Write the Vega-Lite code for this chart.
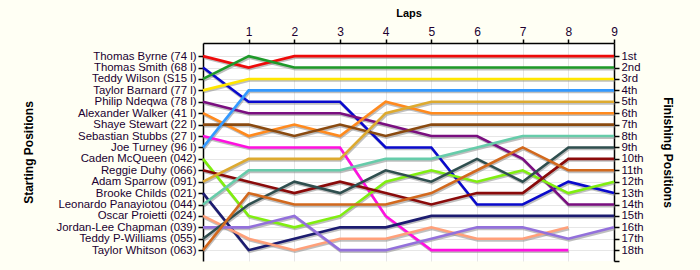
{
  "$schema": "https://vega.github.io/schema/vega-lite/v6.json",
  "width": 411,
  "height": 218,
  "autosize": {"type": "none"},
  "padding": {"left": 203, "top": 43, "right": 86, "bottom": 9},
  "background": "#FFFFF4",
  "config": {
    "view": {"stroke": null, "fill": "white"},
    "axis": {"labelFont": "Liberation Sans", "titleFont": "Liberation Sans", "labelColor": "#200030", "titleColor": "black", "domainColor": "black", "tickColor": "black", "gridColor": "#E6E6E6", "domainWidth": 1.5, "tickWidth": 1.5, "labelOverlap": false}
  },
  "datasets": {
    "race": [
      {"driver": "Thomas Byrne (74 l)", "lap": 0, "pos": 1}, {"driver": "Thomas Byrne (74 l)", "lap": 1, "pos": 2}, {"driver": "Thomas Byrne (74 l)", "lap": 2, "pos": 1}, {"driver": "Thomas Byrne (74 l)", "lap": 3, "pos": 1}, {"driver": "Thomas Byrne (74 l)", "lap": 4, "pos": 1}, {"driver": "Thomas Byrne (74 l)", "lap": 5, "pos": 1}, {"driver": "Thomas Byrne (74 l)", "lap": 6, "pos": 1}, {"driver": "Thomas Byrne (74 l)", "lap": 7, "pos": 1}, {"driver": "Thomas Byrne (74 l)", "lap": 8, "pos": 1}, {"driver": "Thomas Byrne (74 l)", "lap": 9, "pos": 1},
      {"driver": "Thomas Smith (68 l)", "lap": 0, "pos": 2}, {"driver": "Thomas Smith (68 l)", "lap": 1, "pos": 5}, {"driver": "Thomas Smith (68 l)", "lap": 2, "pos": 5}, {"driver": "Thomas Smith (68 l)", "lap": 3, "pos": 5}, {"driver": "Thomas Smith (68 l)", "lap": 4, "pos": 9}, {"driver": "Thomas Smith (68 l)", "lap": 5, "pos": 9}, {"driver": "Thomas Smith (68 l)", "lap": 6, "pos": 14}, {"driver": "Thomas Smith (68 l)", "lap": 7, "pos": 14}, {"driver": "Thomas Smith (68 l)", "lap": 8, "pos": 12}, {"driver": "Thomas Smith (68 l)", "lap": 9, "pos": 13},
      {"driver": "Teddy Wilson (S15 l)", "lap": 0, "pos": 3}, {"driver": "Teddy Wilson (S15 l)", "lap": 1, "pos": 1}, {"driver": "Teddy Wilson (S15 l)", "lap": 2, "pos": 2}, {"driver": "Teddy Wilson (S15 l)", "lap": 3, "pos": 2}, {"driver": "Teddy Wilson (S15 l)", "lap": 4, "pos": 2}, {"driver": "Teddy Wilson (S15 l)", "lap": 5, "pos": 2}, {"driver": "Teddy Wilson (S15 l)", "lap": 6, "pos": 2}, {"driver": "Teddy Wilson (S15 l)", "lap": 7, "pos": 2}, {"driver": "Teddy Wilson (S15 l)", "lap": 8, "pos": 2}, {"driver": "Teddy Wilson (S15 l)", "lap": 9, "pos": 2},
      {"driver": "Taylor Barnard (77 l)", "lap": 0, "pos": 4}, {"driver": "Taylor Barnard (77 l)", "lap": 1, "pos": 3}, {"driver": "Taylor Barnard (77 l)", "lap": 2, "pos": 3}, {"driver": "Taylor Barnard (77 l)", "lap": 3, "pos": 3}, {"driver": "Taylor Barnard (77 l)", "lap": 4, "pos": 3}, {"driver": "Taylor Barnard (77 l)", "lap": 5, "pos": 3}, {"driver": "Taylor Barnard (77 l)", "lap": 6, "pos": 3}, {"driver": "Taylor Barnard (77 l)", "lap": 7, "pos": 3}, {"driver": "Taylor Barnard (77 l)", "lap": 8, "pos": 3}, {"driver": "Taylor Barnard (77 l)", "lap": 9, "pos": 3},
      {"driver": "Philip Ndeqwa (78 l)", "lap": 0, "pos": 5}, {"driver": "Philip Ndeqwa (78 l)", "lap": 1, "pos": 6}, {"driver": "Philip Ndeqwa (78 l)", "lap": 2, "pos": 6}, {"driver": "Philip Ndeqwa (78 l)", "lap": 3, "pos": 6}, {"driver": "Philip Ndeqwa (78 l)", "lap": 4, "pos": 7}, {"driver": "Philip Ndeqwa (78 l)", "lap": 5, "pos": 8}, {"driver": "Philip Ndeqwa (78 l)", "lap": 6, "pos": 8}, {"driver": "Philip Ndeqwa (78 l)", "lap": 7, "pos": 10}, {"driver": "Philip Ndeqwa (78 l)", "lap": 8, "pos": 14}, {"driver": "Philip Ndeqwa (78 l)", "lap": 9, "pos": 14},
      {"driver": "Alexander Walker (41 l)", "lap": 0, "pos": 6}, {"driver": "Alexander Walker (41 l)", "lap": 1, "pos": 8}, {"driver": "Alexander Walker (41 l)", "lap": 2, "pos": 7}, {"driver": "Alexander Walker (41 l)", "lap": 3, "pos": 8}, {"driver": "Alexander Walker (41 l)", "lap": 4, "pos": 5}, {"driver": "Alexander Walker (41 l)", "lap": 5, "pos": 6}, {"driver": "Alexander Walker (41 l)", "lap": 6, "pos": 6}, {"driver": "Alexander Walker (41 l)", "lap": 7, "pos": 6}, {"driver": "Alexander Walker (41 l)", "lap": 8, "pos": 6}, {"driver": "Alexander Walker (41 l)", "lap": 9, "pos": 6},
      {"driver": "Shaye Stewart (22 l)", "lap": 0, "pos": 7}, {"driver": "Shaye Stewart (22 l)", "lap": 1, "pos": 7}, {"driver": "Shaye Stewart (22 l)", "lap": 2, "pos": 8}, {"driver": "Shaye Stewart (22 l)", "lap": 3, "pos": 7}, {"driver": "Shaye Stewart (22 l)", "lap": 4, "pos": 8}, {"driver": "Shaye Stewart (22 l)", "lap": 5, "pos": 7}, {"driver": "Shaye Stewart (22 l)", "lap": 6, "pos": 7}, {"driver": "Shaye Stewart (22 l)", "lap": 7, "pos": 7}, {"driver": "Shaye Stewart (22 l)", "lap": 8, "pos": 7}, {"driver": "Shaye Stewart (22 l)", "lap": 9, "pos": 7},
      {"driver": "Sebastian Stubbs (27 l)", "lap": 0, "pos": 8}, {"driver": "Sebastian Stubbs (27 l)", "lap": 1, "pos": 9}, {"driver": "Sebastian Stubbs (27 l)", "lap": 2, "pos": 9}, {"driver": "Sebastian Stubbs (27 l)", "lap": 3, "pos": 9}, {"driver": "Sebastian Stubbs (27 l)", "lap": 4, "pos": 15}, {"driver": "Sebastian Stubbs (27 l)", "lap": 5, "pos": 18}, {"driver": "Sebastian Stubbs (27 l)", "lap": 6, "pos": 18}, {"driver": "Sebastian Stubbs (27 l)", "lap": 7, "pos": 18}, {"driver": "Sebastian Stubbs (27 l)", "lap": 8, "pos": 18},
      {"driver": "Joe Turney (96 l)", "lap": 0, "pos": 9}, {"driver": "Joe Turney (96 l)", "lap": 1, "pos": 4}, {"driver": "Joe Turney (96 l)", "lap": 2, "pos": 4}, {"driver": "Joe Turney (96 l)", "lap": 3, "pos": 4}, {"driver": "Joe Turney (96 l)", "lap": 4, "pos": 4}, {"driver": "Joe Turney (96 l)", "lap": 5, "pos": 4}, {"driver": "Joe Turney (96 l)", "lap": 6, "pos": 4}, {"driver": "Joe Turney (96 l)", "lap": 7, "pos": 4}, {"driver": "Joe Turney (96 l)", "lap": 8, "pos": 4}, {"driver": "Joe Turney (96 l)", "lap": 9, "pos": 4},
      {"driver": "Caden McQueen (042)", "lap": 0, "pos": 10}, {"driver": "Caden McQueen (042)", "lap": 1, "pos": 15}, {"driver": "Caden McQueen (042)", "lap": 2, "pos": 16}, {"driver": "Caden McQueen (042)", "lap": 3, "pos": 15}, {"driver": "Caden McQueen (042)", "lap": 4, "pos": 12}, {"driver": "Caden McQueen (042)", "lap": 5, "pos": 11}, {"driver": "Caden McQueen (042)", "lap": 6, "pos": 12}, {"driver": "Caden McQueen (042)", "lap": 7, "pos": 11}, {"driver": "Caden McQueen (042)", "lap": 8, "pos": 13}, {"driver": "Caden McQueen (042)", "lap": 9, "pos": 12},
      {"driver": "Reggie Duhy (066)", "lap": 0, "pos": 11}, {"driver": "Reggie Duhy (066)", "lap": 1, "pos": 12}, {"driver": "Reggie Duhy (066)", "lap": 2, "pos": 13}, {"driver": "Reggie Duhy (066)", "lap": 3, "pos": 12}, {"driver": "Reggie Duhy (066)", "lap": 4, "pos": 13}, {"driver": "Reggie Duhy (066)", "lap": 5, "pos": 14}, {"driver": "Reggie Duhy (066)", "lap": 6, "pos": 13}, {"driver": "Reggie Duhy (066)", "lap": 7, "pos": 13}, {"driver": "Reggie Duhy (066)", "lap": 8, "pos": 10}, {"driver": "Reggie Duhy (066)", "lap": 9, "pos": 10},
      {"driver": "Adam Sparrow (091)", "lap": 0, "pos": 12}, {"driver": "Adam Sparrow (091)", "lap": 1, "pos": 10}, {"driver": "Adam Sparrow (091)", "lap": 2, "pos": 10}, {"driver": "Adam Sparrow (091)", "lap": 3, "pos": 10}, {"driver": "Adam Sparrow (091)", "lap": 4, "pos": 6}, {"driver": "Adam Sparrow (091)", "lap": 5, "pos": 5}, {"driver": "Adam Sparrow (091)", "lap": 6, "pos": 5}, {"driver": "Adam Sparrow (091)", "lap": 7, "pos": 5}, {"driver": "Adam Sparrow (091)", "lap": 8, "pos": 5}, {"driver": "Adam Sparrow (091)", "lap": 9, "pos": 5},
      {"driver": "Brooke Childs (021)", "lap": 0, "pos": 13}, {"driver": "Brooke Childs (021)", "lap": 1, "pos": 18}, {"driver": "Brooke Childs (021)", "lap": 2, "pos": 17}, {"driver": "Brooke Childs (021)", "lap": 3, "pos": 16}, {"driver": "Brooke Childs (021)", "lap": 4, "pos": 16}, {"driver": "Brooke Childs (021)", "lap": 5, "pos": 15}, {"driver": "Brooke Childs (021)", "lap": 6, "pos": 15}, {"driver": "Brooke Childs (021)", "lap": 7, "pos": 15}, {"driver": "Brooke Childs (021)", "lap": 8, "pos": 15}, {"driver": "Brooke Childs (021)", "lap": 9, "pos": 15},
      {"driver": "Leonardo Panayiotou (044)", "lap": 0, "pos": 14}, {"driver": "Leonardo Panayiotou (044)", "lap": 1, "pos": 11}, {"driver": "Leonardo Panayiotou (044)", "lap": 2, "pos": 11}, {"driver": "Leonardo Panayiotou (044)", "lap": 3, "pos": 11}, {"driver": "Leonardo Panayiotou (044)", "lap": 4, "pos": 10}, {"driver": "Leonardo Panayiotou (044)", "lap": 5, "pos": 10}, {"driver": "Leonardo Panayiotou (044)", "lap": 6, "pos": 9}, {"driver": "Leonardo Panayiotou (044)", "lap": 7, "pos": 8}, {"driver": "Leonardo Panayiotou (044)", "lap": 8, "pos": 8}, {"driver": "Leonardo Panayiotou (044)", "lap": 9, "pos": 8},
      {"driver": "Oscar Proietti (024)", "lap": 0, "pos": 15}, {"driver": "Oscar Proietti (024)", "lap": 1, "pos": 17}, {"driver": "Oscar Proietti (024)", "lap": 2, "pos": 18}, {"driver": "Oscar Proietti (024)", "lap": 3, "pos": 17}, {"driver": "Oscar Proietti (024)", "lap": 4, "pos": 17}, {"driver": "Oscar Proietti (024)", "lap": 5, "pos": 16}, {"driver": "Oscar Proietti (024)", "lap": 6, "pos": 17}, {"driver": "Oscar Proietti (024)", "lap": 7, "pos": 17}, {"driver": "Oscar Proietti (024)", "lap": 8, "pos": 16},
      {"driver": "Jordan-Lee Chapman (039)", "lap": 0, "pos": 16}, {"driver": "Jordan-Lee Chapman (039)", "lap": 1, "pos": 16}, {"driver": "Jordan-Lee Chapman (039)", "lap": 2, "pos": 15}, {"driver": "Jordan-Lee Chapman (039)", "lap": 3, "pos": 18}, {"driver": "Jordan-Lee Chapman (039)", "lap": 4, "pos": 18}, {"driver": "Jordan-Lee Chapman (039)", "lap": 5, "pos": 17}, {"driver": "Jordan-Lee Chapman (039)", "lap": 6, "pos": 16}, {"driver": "Jordan-Lee Chapman (039)", "lap": 7, "pos": 16}, {"driver": "Jordan-Lee Chapman (039)", "lap": 8, "pos": 17}, {"driver": "Jordan-Lee Chapman (039)", "lap": 9, "pos": 16},
      {"driver": "Teddy P-Williams (055)", "lap": 0, "pos": 17}, {"driver": "Teddy P-Williams (055)", "lap": 1, "pos": 14}, {"driver": "Teddy P-Williams (055)", "lap": 2, "pos": 12}, {"driver": "Teddy P-Williams (055)", "lap": 3, "pos": 13}, {"driver": "Teddy P-Williams (055)", "lap": 4, "pos": 11}, {"driver": "Teddy P-Williams (055)", "lap": 5, "pos": 12}, {"driver": "Teddy P-Williams (055)", "lap": 6, "pos": 10}, {"driver": "Teddy P-Williams (055)", "lap": 7, "pos": 12}, {"driver": "Teddy P-Williams (055)", "lap": 8, "pos": 9}, {"driver": "Teddy P-Williams (055)", "lap": 9, "pos": 9},
      {"driver": "Taylor Whitson (063)", "lap": 0, "pos": 18}, {"driver": "Taylor Whitson (063)", "lap": 1, "pos": 13}, {"driver": "Taylor Whitson (063)", "lap": 2, "pos": 14}, {"driver": "Taylor Whitson (063)", "lap": 3, "pos": 14}, {"driver": "Taylor Whitson (063)", "lap": 4, "pos": 14}, {"driver": "Taylor Whitson (063)", "lap": 5, "pos": 13}, {"driver": "Taylor Whitson (063)", "lap": 6, "pos": 11}, {"driver": "Taylor Whitson (063)", "lap": 7, "pos": 9}, {"driver": "Taylor Whitson (063)", "lap": 8, "pos": 11}, {"driver": "Taylor Whitson (063)", "lap": 9, "pos": 11}
    ]
  },
  "data": {"name": "race"},
  "layer": [
    {
      "mark": {"type": "line", "stroke": "#8A8A8A", "strokeWidth": 2.6, "opacity": 0.55, "xOffset": 0.8, "yOffset": 1.6},
      "encoding": {
        "x": {"field": "lap", "type": "quantitative", "scale": {"domain": [0, 9], "nice": false, "zero": false},
          "axis": {"orient": "top", "values": [1, 2, 3, 4, 5, 6, 7, 8, 9], "title": "Laps", "titleFontSize": 11, "titleFontWeight": "bold", "titlePadding": 7, "labelFontSize": 12, "tickSize": 4, "labelPadding": 1, "grid": true, "labelFlush": false}},
        "y": {"field": "pos", "type": "quantitative", "scale": {"domain": [-0.15, 18.95], "reverse": true, "nice": false, "zero": false},
          "axis": {"orient": "left", "values": [1, 2, 3, 4, 5, 6, 7, 8, 9, 10, 11, 12, 13, 14, 15, 16, 17, 18],
            "labelExpr": "['', 'Thomas Byrne (74 l)', 'Thomas Smith (68 l)', 'Teddy Wilson (S15 l)', 'Taylor Barnard (77 l)', 'Philip Ndeqwa (78 l)', 'Alexander Walker (41 l)', 'Shaye Stewart (22 l)', 'Sebastian Stubbs (27 l)', 'Joe Turney (96 l)', 'Caden McQueen (042)', 'Reggie Duhy (066)', 'Adam Sparrow (091)', 'Brooke Childs (021)', 'Leonardo Panayiotou (044)', 'Oscar Proietti (024)', 'Jordan-Lee Chapman (039)', 'Teddy P-Williams (055)', 'Taylor Whitson (063)'][datum.value]",
            "labelFontSize": 11.4, "tickSize": 5, "labelPadding": 2, "grid": true, "labelFlush": false,
            "title": "Starting Positions", "titleFontSize": 12, "titleFontWeight": "bold", "titleAngle": -90, "titleX": -175, "titleY": 109, "titleAlign": "center", "titleBaseline": "middle"}},
        "detail": {"field": "driver"},
        "order": {"field": "lap"}
      }
    },
    {
      "mark": {"type": "line", "strokeWidth": 2.6},
      "encoding": {
        "x": {"field": "lap", "type": "quantitative", "scale": {"domain": [0, 9], "nice": false, "zero": false}, "axis": null},
        "y": {"field": "pos", "type": "quantitative", "scale": {"domain": [-0.15, 18.95], "reverse": true, "nice": false, "zero": false},
          "axis": {"orient": "right", "values": [1, 2, 3, 4, 5, 6, 7, 8, 9, 10, 11, 12, 13, 14, 15, 16, 17, 18, 18.95],
            "labelExpr": "datum.value > 18.5 ? '' : datum.value + (datum.value == 1 ? 'st' : datum.value == 2 ? 'nd' : datum.value == 3 ? 'rd' : 'th')",
            "labelFontSize": 11.4, "tickSize": 5, "labelPadding": 2, "grid": false, "labelFlush": false,
            "title": "Finishing Positions", "titleFontSize": 12, "titleFontWeight": "bold", "titleAngle": 90, "titleX": 53, "titleY": 109, "titleAlign": "center", "titleBaseline": "middle"}},
        "color": {"field": "driver", "type": "nominal", "legend": null,
          "scale": {"domain": ["Thomas Byrne (74 l)", "Thomas Smith (68 l)", "Teddy Wilson (S15 l)", "Taylor Barnard (77 l)", "Philip Ndeqwa (78 l)", "Alexander Walker (41 l)", "Shaye Stewart (22 l)", "Sebastian Stubbs (27 l)", "Joe Turney (96 l)", "Caden McQueen (042)", "Reggie Duhy (066)", "Adam Sparrow (091)", "Brooke Childs (021)", "Leonardo Panayiotou (044)", "Oscar Proietti (024)", "Jordan-Lee Chapman (039)", "Teddy P-Williams (055)", "Taylor Whitson (063)"],
            "range": ["#EE0A0A", "#0A0ACC", "#1E9A2A", "#FFE600", "#7A0F80", "#FF8A1E", "#8A4A10", "#FF10E0", "#3399FF", "#80EE10", "#8A0A0A", "#DDAA30", "#1C1C70", "#66CCAA", "#FFA07A", "#9370DB", "#2F4F4F", "#D2691E"]}},
        "detail": {"field": "driver"},
        "order": {"field": "lap"}
      }
    }
  ],
  "resolve": {"axis": {"y": "independent", "x": "independent"}}
}
